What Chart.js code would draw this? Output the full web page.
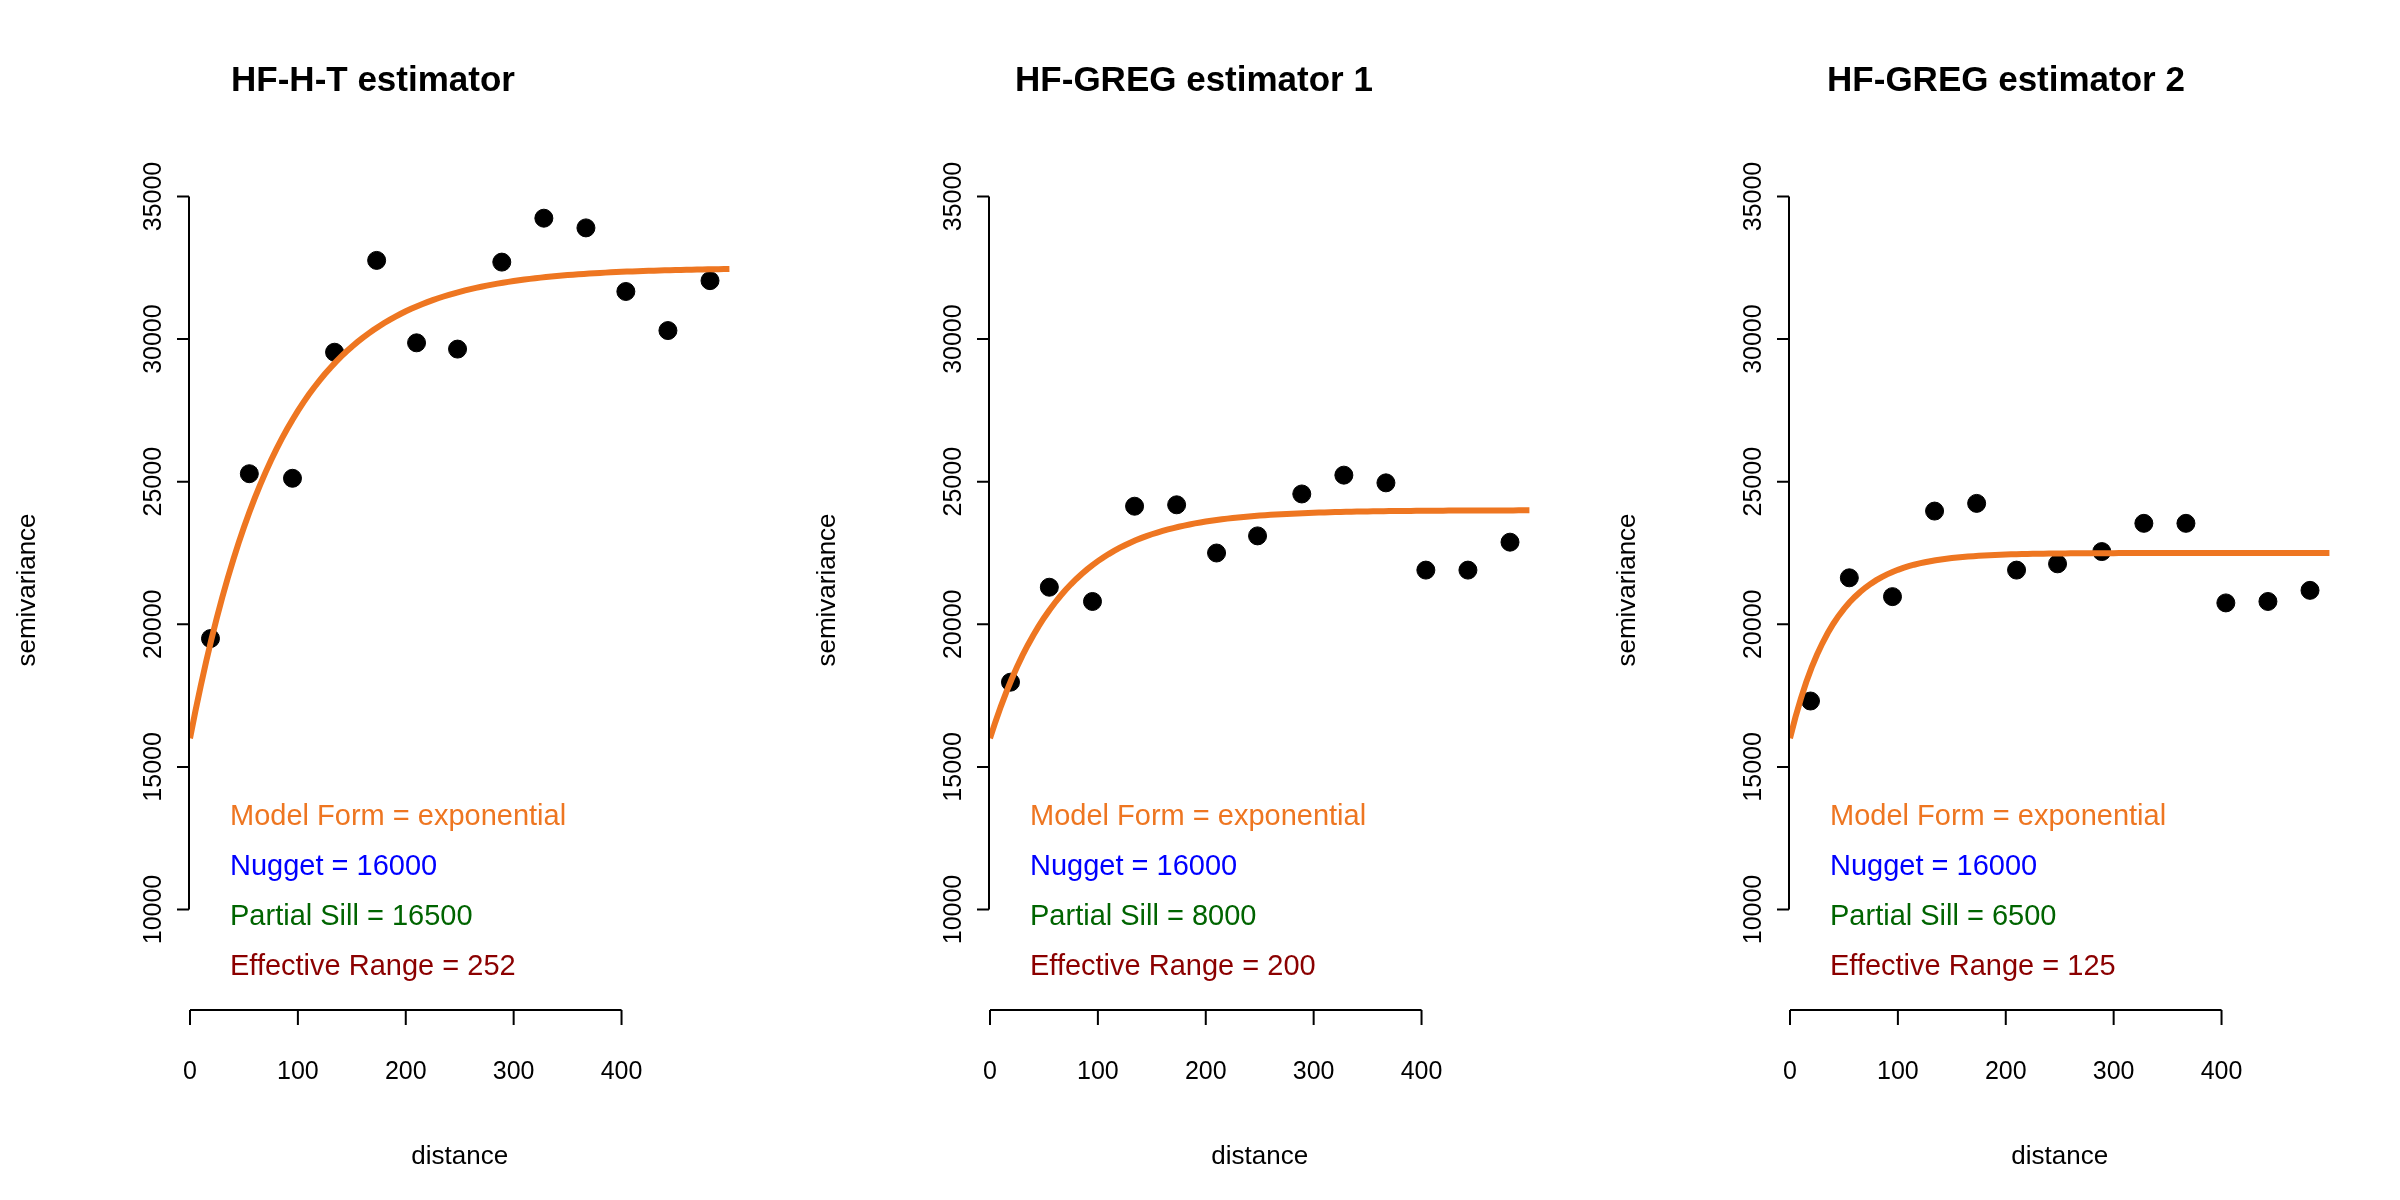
<!DOCTYPE html>
<html>
<head>
<meta charset="utf-8">
<script src="https://cdn.jsdelivr.net/npm/chart.js@4/dist/chart.umd.min.js"></script>
<style>
  body { margin: 0; background: #fff; width: 2400px; height: 1200px; position: relative; overflow: hidden; }
  .panel { position: absolute; top: 0; width: 800px; height: 1200px; }
</style>
</head>
<body>
<div class="panel" style="left:0px"><canvas id="c0" width="800" height="1200"></canvas></div>
<div class="panel" style="left:800px"><canvas id="c1" width="800" height="1200"></canvas></div>
<div class="panel" style="left:1600px"><canvas id="c2" width="800" height="1200"></canvas></div>
<script>
// lag distances (same for all three panels)
const distances = [19, 55, 95, 134, 173, 210, 248, 289, 328, 367, 404, 443, 482];

// empirical semivariances
const semivarHT = [19500, 25280, 25120, 29540, 32760, 29870, 29650, 32700, 34240, 33900, 31670, 30300, 32050];
const semivarGREG1 = [17970, 21300, 20800, 24140, 24190, 22500, 23100, 24570, 25230, 24960, 21900, 21900, 22880];
const semivarGREG2 = [17310, 21630, 20970, 23970, 24240, 21900, 22120, 22550, 23540, 23540, 20750, 20800, 21190];

const titles = ["HF-H-T estimator", "HF-GREG estimator 1", "HF-GREG estimator 2"];
const nuggets = [16000, 16000, 16000];
const partialSills = [16500, 8000, 6500];
const effectiveRanges = [252, 200, 125];

const xTicks = [0, 100, 200, 300, 400];
const yTicks = [10000, 15000, 20000, 25000, 30000, 35000];

const ORANGE = "#EE7621";
const FONT = "'Liberation Sans', Arial, sans-serif";

// exponential variogram model from the printed parameters
function modelCurve(nugget, psill, range) {
  const pts = [];
  for (let h = 0; h <= 500; h += 5) {
    pts.push({ x: h, y: nugget + psill * (1 - Math.exp(-3 * h / range)) });
  }
  return pts;
}

const rAxes = {
  id: "rAxes",
  afterDraw(chart, args, opts) {
    const ctx = chart.ctx;
    const xs = chart.scales.x, ys = chart.scales.y;
    ctx.save();
    ctx.strokeStyle = "#000";
    ctx.fillStyle = "#000";
    ctx.lineWidth = 2;

    // y axis
    const ax = xs.getPixelForValue(0) - 1;
    ctx.beginPath();
    ctx.moveTo(ax, ys.getPixelForValue(yTicks[0]));
    ctx.lineTo(ax, ys.getPixelForValue(yTicks[yTicks.length - 1]));
    yTicks.forEach((t) => {
      const p = ys.getPixelForValue(t);
      ctx.moveTo(ax, p);
      ctx.lineTo(ax - 12, p);
    });
    ctx.stroke();
    ctx.font = "25px " + FONT;
    ctx.textAlign = "center";
    ctx.textBaseline = "middle";
    yTicks.forEach((t) => {
      ctx.save();
      ctx.translate(ax - 35, ys.getPixelForValue(t));
      ctx.rotate(-Math.PI / 2);
      ctx.fillText(String(t), 0, 0);
      ctx.restore();
    });

    // x axis (detached, below plot)
    const ay = 1010;
    ctx.beginPath();
    ctx.moveTo(xs.getPixelForValue(xTicks[0]), ay);
    ctx.lineTo(xs.getPixelForValue(xTicks[xTicks.length - 1]), ay);
    xTicks.forEach((t) => {
      const p = xs.getPixelForValue(t);
      ctx.moveTo(p, ay);
      ctx.lineTo(p, ay + 15);
    });
    ctx.stroke();
    ctx.textBaseline = "middle";
    xTicks.forEach((t) => ctx.fillText(String(t), xs.getPixelForValue(t), ay + 62));

    // axis titles
    ctx.font = "26px " + FONT;
    ctx.fillText("distance", xs.getPixelForValue(250), 1157);
    ctx.save();
    ctx.translate(28, 590);
    ctx.rotate(-Math.PI / 2);
    ctx.fillText("semivariance", 0, 0);
    ctx.restore();

    // main title
    ctx.font = "bold 35px " + FONT;
    ctx.fillText(opts.title, opts.titleX, 81);

    // parameter text
    const lines = [
      ["Model Form = exponential", ORANGE],
      ["Nugget = " + opts.nugget, "#0000FF"],
      ["Partial Sill = " + opts.psill, "#006400"],
      ["Effective Range = " + opts.range, "#8B0000"],
    ];
    ctx.font = "29px " + FONT;
    ctx.textAlign = "left";
    lines.forEach((l, i) => {
      ctx.fillStyle = l[1];
      ctx.fillText(l[0], xs.getPixelForValue(0) + 40, 817 + i * 50);
    });
    ctx.restore();
  },
};

const seriesList = [semivarHT, semivarGREG1, semivarGREG2];
const titleX = [373, 394, 406];

seriesList.forEach((series, i) => {
  new Chart(document.getElementById("c" + i), {
    type: "scatter",
    data: {
      datasets: [
        {
          data: distances.map((d, k) => ({ x: d, y: series[k] })),
          backgroundColor: "#000",
          borderColor: "#000",
          pointRadius: 9,
          order: 2,
        },
        {
          data: modelCurve(nuggets[i], partialSills[i], effectiveRanges[i]),
          showLine: true,
          borderColor: ORANGE,
          borderWidth: 6,
          pointRadius: 0,
          order: 1,
        },
      ],
    },
    options: {
      responsive: false,
      animation: false,
      devicePixelRatio: 1,
      layout: { padding: { left: 190, right: 49, top: 168, bottom: 262 } },
      scales: {
        x: { type: "linear", display: false, min: 0, max: 520 },
        y: { type: "linear", display: false, min: 9000, max: 36000 },
      },
      plugins: {
        legend: { display: false },
        tooltip: { enabled: false },
        rAxes: {
          title: titles[i],
          titleX: titleX[i],
          nugget: nuggets[i],
          psill: partialSills[i],
          range: effectiveRanges[i],
        },
      },
    },
    plugins: [rAxes],
  });
});
</script>
</body>
</html>
